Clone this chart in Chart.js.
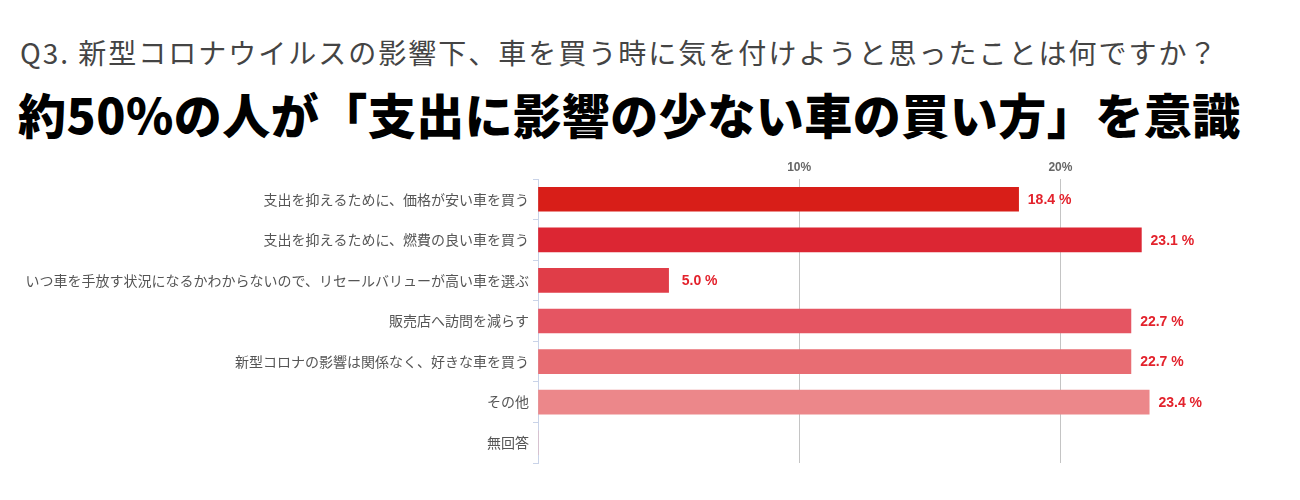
<!DOCTYPE html>
<html>
<head>
<meta charset="utf-8">
<script src="https://cdn.jsdelivr.net/npm/chart.js@4/dist/chart.umd.min.js"></script>
<style>
  html, body { margin: 0; padding: 0; background: #fff; }
  #wrap { position: relative; width: 1300px; height: 500px; overflow: hidden; }
  #c { position: absolute; left: 0; top: 0; }
  .t1 { position: absolute; left: 20px; top: 38px; font-family: "Noto Sans CJK JP", sans-serif; font-size: 28px; line-height: 28px; color: #444; white-space: nowrap; letter-spacing: 2px; }
  .t2 { position: absolute; left: 18px; top: 89px; font-family: "Noto Sans CJK JP", sans-serif; font-size: 48px; line-height: 48px; font-weight: 900; color: #000; white-space: nowrap; letter-spacing: 0.5px; }
</style>
</head>
<body>
<div id="wrap">
  <div class="t1">Q3. 新型コロナウイルスの影響下、車を買う時に気を付けようと思ったことは何ですか？</div>
  <div class="t2">約50%の人が「支出に影響の少ない車の買い方」を意識</div>
  <canvas id="c" width="1300" height="500"></canvas>
</div>
<script>
const categories = [
  "支出を抑えるために、価格が安い車を買う",
  "支出を抑えるために、燃費の良い車を買う",
  "いつ車を手放す状況になるかわからないので、リセールバリューが高い車を選ぶ",
  "販売店へ訪問を減らす",
  "新型コロナの影響は関係なく、好きな車を買う",
  "その他",
  "無回答"
];
const values = [18.4, 23.1, 5.0, 22.7, 22.7, 23.4, 0];
const barColors = ["#d81e18", "#dc2633", "#e03d48", "#e55562", "#e86d73", "#ec878a", "#f0a0a0"];
const axisMin = 0;
const axisMax = 25;
const tickStep = 10;

const valueLabels = {
  id: 'valueLabels',
  afterDatasetsDraw(chart) {
    const ctx = chart.ctx;
    const meta = chart.getDatasetMeta(0);
    ctx.save();
    ctx.font = 'bold 14px "Liberation Sans", Arial, sans-serif';
    ctx.fillStyle = '#e3222c';
    ctx.textAlign = 'center';
    ctx.textBaseline = 'middle';
    meta.data.forEach((bar, i) => {
      const v = values[i];
      if (!v) return;
      ctx.fillText(v.toFixed(1) + ' %', bar.x + 31, bar.y + 1);
    });
    ctx.restore();
  }
};

new Chart(document.getElementById('c'), {
  type: 'bar',
  data: {
    labels: categories,
    datasets: [{
      data: values,
      backgroundColor: barColors,
      barThickness: 24,
      borderWidth: 0
    }]
  },
  options: {
    indexAxis: 'y',
    responsive: false,
    animation: false,
    devicePixelRatio: 1,
    layout: { padding: { top: 150, right: 109, bottom: 37, left: 0 } },
    plugins: { legend: { display: false }, tooltip: { enabled: false }, title: { display: false } },
    scales: {
      x: {
        position: 'top',
        min: axisMin,
        max: axisMax,
        ticks: {
          stepSize: tickStep,
          includeBounds: false,
          padding: 4,
          color: '#666',
          font: { family: '"Liberation Sans", Arial, sans-serif', size: 12, weight: 'bold' },
          callback: (v) => v === 0 ? '' : v + '%'
        },
        grid: {
          drawTicks: false,
          color: (c) => (c.tick && c.tick.value === 0) ? 'rgba(0,0,0,0)' : '#c4c4c4'
        },
        border: { display: false },
        afterFit: (s) => { s.height = 29; }
      },
      y: {
        ticks: {
          padding: 4,
          color: '#555',
          font: { family: '"Noto Sans CJK JP", sans-serif', size: 14 }
        },
        grid: {
          drawOnChartArea: false,
          drawTicks: true,
          tickLength: 5,
          offset: true,
          color: '#c9d3e8'
        },
        border: { color: '#c9d3e8' },
        afterFit: (s) => { s.width = 538; }
      }
    }
  },
  plugins: [valueLabels]
});
</script>
</body>
</html>
